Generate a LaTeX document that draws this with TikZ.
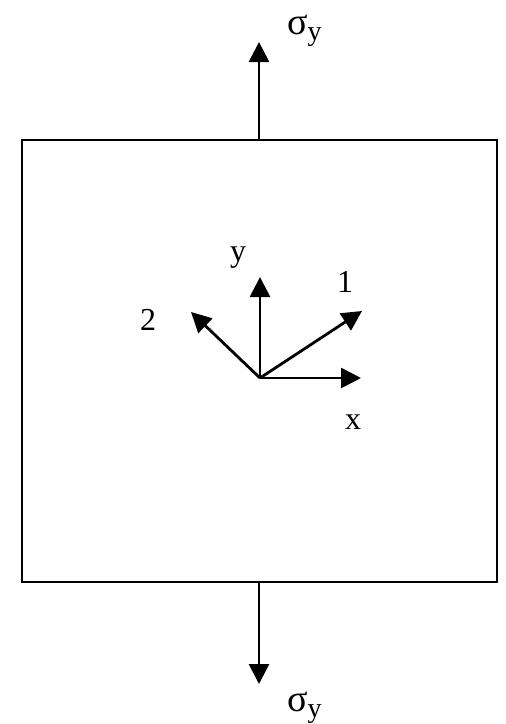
\documentclass[tikz,border=0pt]{standalone}
\usepackage{fontspec}
\setmainfont{Liberation Serif}
\usetikzlibrary{arrows.meta}
\newcommand{\sigy}{{\fontsize{38}{42}\selectfont σ}\raisebox{-6pt}{\fontsize{28}{30}\selectfont y}}
\begin{document}
\begin{tikzpicture}[x=1pt,y=-1pt,
  ln/.style={line width=2.8pt},
  arr/.style={line width=2.8pt,-{Triangle[length=20pt,width=20pt]}},
  lbl/.style={inner sep=0pt,font=\fontsize{32}{36}\selectfont},
  slbl/.style={inner sep=0pt,anchor=base west}]
\useasboundingbox (0,0) rectangle (506,724);
\fill[white] (0,0) rectangle (506,724);
\draw[ln] (22,140) rectangle (497,582);
\coordinate (top) at (259,140);
\coordinate (toptip) at (259,42);
\coordinate (bot) at (259,582);
\coordinate (bottip) at (259,684);
\coordinate (o) at (260,378);
\coordinate (xe) at (361,378);
\coordinate (ye) at (260,277);
\coordinate (e1) at (362,311);
\coordinate (e2) at (191,312);
\draw[arr] (top) -- (toptip);
\draw[arr] (bot) -- (bottip);
\draw[arr] (o) -- (xe);
\draw[arr] (o) -- (ye);
\draw[arr] (o) -- (e1);
\draw[arr] (o) -- (e2);
\node[slbl] (sT) at (287,34) {\sigy};
\node[slbl] (sB) at (287,711) {\sigy};
\node[lbl] (ly) at (238,258) {y};
\node[lbl] (l1) at (345,282) {1};
\node[lbl] (l2) at (148,320) {2};
\node[lbl] (lx) at (353,422) {x};
\end{tikzpicture}
\end{document}
